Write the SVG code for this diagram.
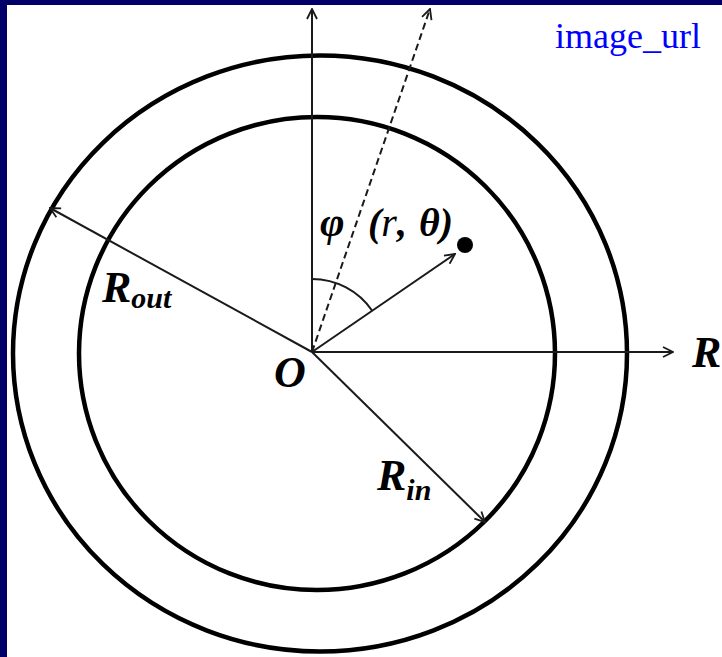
<svg xmlns="http://www.w3.org/2000/svg" width="722" height="657" viewBox="0 0 722 657">
<defs>
<style>
.ring{fill:none;stroke:#000;stroke-width:4.5}
.ln{fill:none;stroke:#1a1a1a;stroke-width:2}
.math{font-family:"Liberation Serif","Times New Roman",serif;font-style:italic;font-weight:bold;fill:#000}
</style>
<marker id="ah" viewBox="0 0 12 12" refX="11" refY="6" markerWidth="12" markerHeight="12" markerUnits="userSpaceOnUse" orient="auto">
<path d="M1,1 L11,6 L1,11" fill="none" stroke="#1a1a1a" stroke-width="1.8"/>
</marker>
</defs>
<rect x="0" y="0" width="722" height="657" fill="#000068"/>
<rect x="7" y="5" width="715" height="652" fill="#fff"/>
<g id="outer-ring"><ellipse class="ring" cx="320" cy="353.5" rx="307" ry="298"/></g>
<g id="inner-ring"><ellipse class="ring" cx="317" cy="353.5" rx="238" ry="236.5"/></g>
<g id="connectors">
<line class="ln" x1="312" y1="352" x2="312" y2="9" marker-end="url(#ah)"/>
<line class="ln" x1="312" y1="352" x2="673" y2="352" stroke-width="2.8" stroke="#555" marker-end="url(#ah)"/>
<line class="ln" x1="312" y1="352" x2="430" y2="9" stroke-dasharray="7,4" stroke-width="2.4" marker-end="url(#ah)"/>
<line class="ln" x1="312" y1="352" x2="50" y2="208" marker-end="url(#ah)"/>
<line class="ln" x1="312" y1="352" x2="485" y2="522" marker-end="url(#ah)"/>
<line class="ln" x1="312" y1="352" x2="455" y2="254" marker-end="url(#ah)"/>
<path class="ln" d="M312,279 A73,73 0 0 1 372.2,310.8"/>
</g>
<g id="point"><circle cx="465" cy="245" r="8" fill="#000"/></g>
<g id="labels">
<text class="math" x="274" y="387" font-size="44">O</text>
<text class="math" x="692" y="367" font-size="44">R</text>
<text class="math" x="102" y="302" font-size="44">R<tspan font-size="30" dy="6">out</tspan></text>
<text class="math" x="377" y="490" font-size="44">R<tspan font-size="30" dy="10">in</tspan></text>
<text class="math" x="320" y="236" font-size="42">φ</text>
<text class="math" x="368" y="236" font-size="40" word-spacing="2">(<tspan font-weight="normal">r</tspan>, θ)</text>
<text x="555" y="48" font-family="'Liberation Serif','Times New Roman',serif" font-size="36" fill="#0000ff">image_url</text>
</g>
</svg>
